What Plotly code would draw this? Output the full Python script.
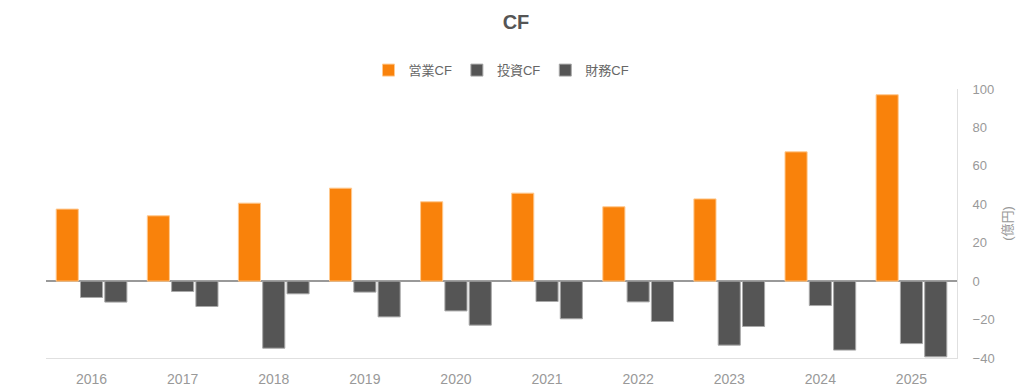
import plotly.graph_objects as go

years = ["2016", "2017", "2018", "2019", "2020", "2021", "2022", "2023", "2024", "2025"]
operating_cf = [37.5, 34.0, 40.6, 48.4, 41.3, 45.8, 38.7, 42.8, 67.3, 97.0]
investing_cf = [-8.5, -5.4, -34.9, -5.7, -15.5, -10.6, -10.8, -33.3, -12.7, -32.5]
financing_cf = [-10.9, -13.2, -6.6, -18.6, -22.9, -19.6, -21.0, -23.6, -35.9, -39.4]
y_ticks = [-40, -20, 0, 20, 40, 60, 80, 100]

FONT = "Liberation Sans, Arial, Noto Sans CJK JP, sans-serif"

# the page body adds an 8px margin, so the figure is drawn 8px smaller
W, H = 1016, 384

fig = go.Figure()
fig.add_trace(go.Bar(name="営業CF", x=years, y=operating_cf,
                     marker=dict(color="#F9820B", line=dict(color="#FFC98F", width=1))))
fig.add_trace(go.Bar(name="投資CF", x=years, y=investing_cf,
                     marker=dict(color="#555555", line=dict(color="#A8A8A8", width=1))))
fig.add_trace(go.Bar(name="財務CF", x=years, y=financing_cf,
                     marker=dict(color="#555555", line=dict(color="#A8A8A8", width=1))))

fig.update_layout(
    width=W, height=H,
    margin=dict(l=38, r=67, t=81, b=34, autoexpand=False),
    paper_bgcolor="white", plot_bgcolor="white",
    font=dict(family=FONT, color="#999999", size=13),
    title=dict(text="<b>CF</b>", x=0.5, xanchor="center", y=1 - 14 / H, yanchor="middle",
               font=dict(size=20, color="#555555", family=FONT)),
    barmode="group", bargap=0.2, bargroupgap=0.09,
    showlegend=True,
    legend=dict(orientation="h", x=0.5, xanchor="center", y=1.07, yanchor="middle",
                font=dict(size=13, color="#666666"), itemwidth=30, traceorder="normal"),
    xaxis=dict(showgrid=False, showline=True, linecolor="#E0E0E0", linewidth=1,
               ticks="", ticklabelstandoff=8, tickfont=dict(size=14, color="#999999"),
               zeroline=False, automargin=False),
    yaxis=dict(side="right", range=[-40, 100], tickvals=y_ticks, showgrid=False,
               zeroline=True, zerolinecolor="#999999", zerolinewidth=2,
               showline=True, linecolor="#E0E0E0", linewidth=1,
               ticks="", ticklabelstandoff=12, automargin=False,
               tickfont=dict(size=13, color="#999999"),
               title=dict(text="(億円)", font=dict(size=13, color="#999999"), standoff=9)),
)

fig.write_html("out.html")
